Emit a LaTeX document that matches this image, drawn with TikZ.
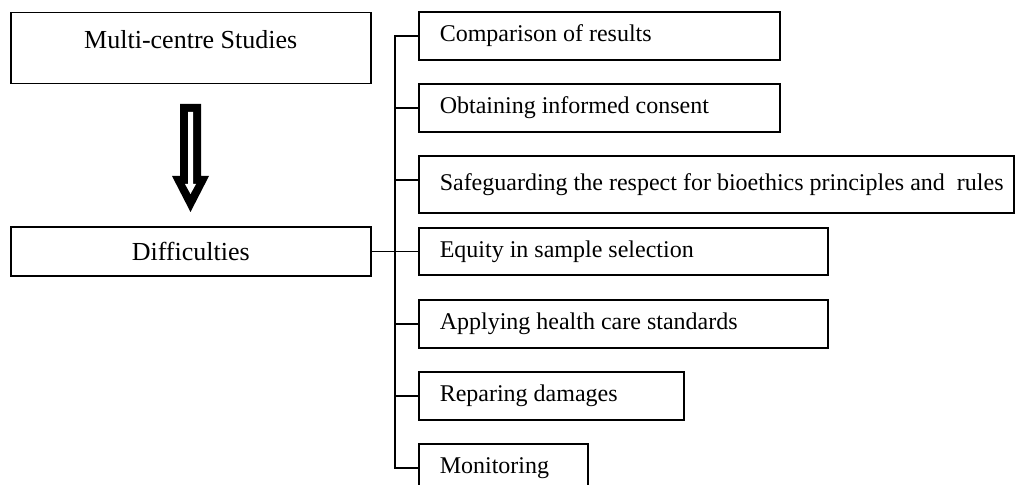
\documentclass[tikz,border=0pt]{standalone}
\usepackage{fontspec}
\setmainfont{Liberation Serif}
\newcommand{\lefttext}[2]{\makebox[#1][l]{#2}}
\tikzset{
  head/.style={draw, line width=0.75pt, minimum width=180pt, inner ysep=0pt,
    font=\fontsize{13}{15}\selectfont},
  item/.style={draw, line width=0.75pt, anchor=west, inner xsep=10.5pt,
    inner ysep=0pt, minimum height=#1},
}
\begin{document}
\begin{tikzpicture}[x=0.5pt,y=-0.5pt,font=\fontsize{12}{14}\selectfont]
  \useasboundingbox (0,0) rectangle (1016,485);
  \node[head, anchor=north west, text height=18pt, text depth=17.5pt]
    (studies) at (10,12) {Multi-centre Studies};
  \node[head, anchor=west, minimum height=24.5pt] (diff) at (10,251.5) {Difficulties};
  % block arrow
  \fill (180,104) -- (201,104) -- (201,176) -- (209,176) -- (190.5,212)
    -- (172,176) -- (180,176) -- cycle;
  \fill[white] (188,112) -- (193,112) -- (193,184) -- (196,184) -- (190.5,194)
    -- (185,184) -- (188,184) -- cycle;
  \node[item=24pt] (s1) at (418,36) {\lefttext{159.5pt}{Comparison of results}};
  \node[item=24pt] (s2) at (418,108) {\lefttext{159.5pt}{Obtaining informed consent}};
  \node[item=28.5pt] (s3) at (418,184.5)
    {\lefttext{276.5pt}{Safeguarding the respect for bioethics principles and~~rules}};
  \node[item=23.5pt] (s4) at (418,251.5) {\lefttext{183.5pt}{Equity in sample selection}};
  \node[item=24pt] (s5) at (418,324) {\lefttext{183.5pt}{Applying health care standards}};
  \node[item=24pt] (s6) at (418,396) {\lefttext{111.5pt}{Reparing damages}};
  \node[item=24pt] (s7) at (418,468) {\lefttext{63.5pt}{Monitoring}};
  \coordinate (trunk) at (395,0);
  \coordinate (s3stub) at ([yshift=2.25pt]s3.west);
  \begin{scope}[line width=0.75pt]
    \draw (s1.west) -| (trunk |- s7.west) -- (s7.west);
    \draw (s2.west) to (trunk |- s2.west);
    \draw (s3stub) to (trunk |- s3stub);
    \draw (diff.east) to (s4.west);
    \draw (s5.west) to (trunk |- s5.west);
    \draw (s6.west) to (trunk |- s6.west);
  \end{scope}
\end{tikzpicture}
\end{document}
